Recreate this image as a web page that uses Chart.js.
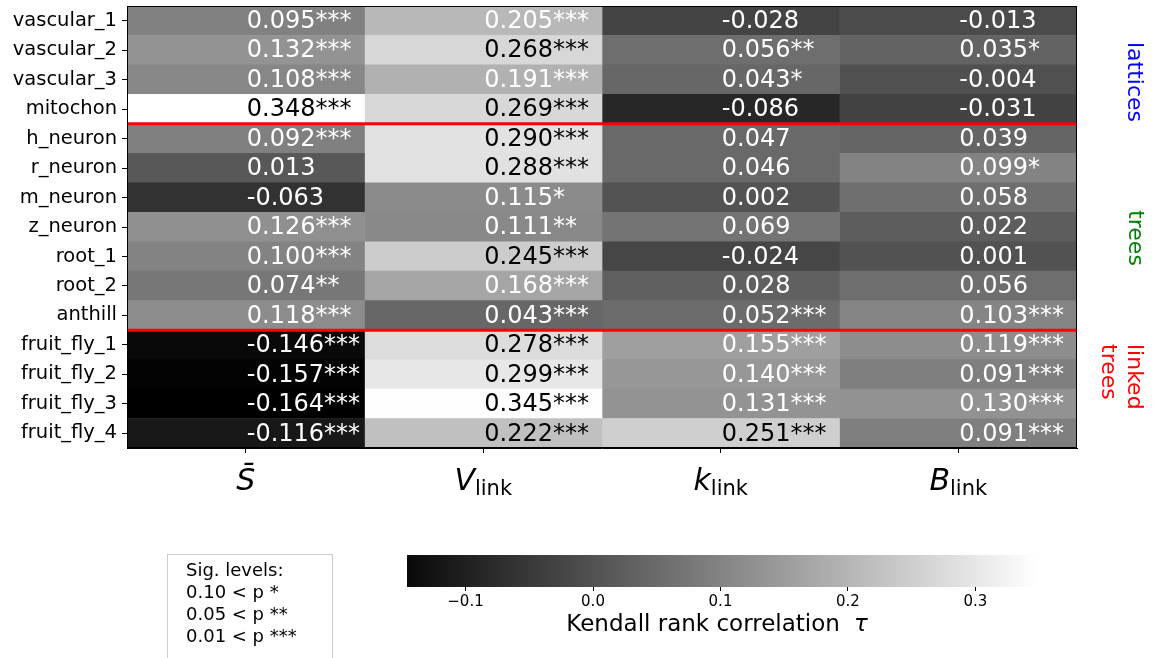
<!DOCTYPE html>
<html>
<head>
<meta charset="utf-8">
<script src="https://cdn.jsdelivr.net/npm/chart.js@4.4.1/dist/chart.umd.min.js"></script>
<style>
  html, body { margin: 0; padding: 0; background: #fff; }
  #wrap { position: relative; width: 1158px; height: 658px; overflow: hidden; }
  #heatmap { position: absolute; left: 0; top: 0; }
  #colorbar { position: absolute; left: 380px; top: 540px; }
  #sigBox {
    position: absolute; left: 167px; top: 554px; width: 166px; height: 130px;
    border: 1px solid #cccccc; box-sizing: border-box;
    padding: 4px 0 0 18px;
    font-family: 'DejaVu Sans'; font-size: 18px; line-height: 22px;
    white-space: pre; color: #000;
  }
</style>
</head>
<body>
<div id="wrap">
  <canvas id="heatmap" width="1158" height="658"></canvas>
  <canvas id="colorbar" width="720" height="118"></canvas>
  <div id="sigBox"><div>Sig. levels:</div><div>0.10 &lt; p *</div><div>0.05 &lt; p **</div><div>0.01 &lt; p ***</div></div>
</div>
<script>
// Row / column labels
const rowLabels = ['vascular_1', 'vascular_2', 'vascular_3', 'mitochon',
    'h_neuron', 'r_neuron', 'm_neuron', 'z_neuron', 'root_1', 'root_2', 'anthill',
    'fruit_fly_1', 'fruit_fly_2', 'fruit_fly_3', 'fruit_fly_4'];
const colSymbols = ['S\u0304', 'V', 'k', 'B'];
const colSubs = ['', 'link', 'link', 'link'];

// Kendall tau per column
const tauS = [0.095, 0.132, 0.108, 0.348, 0.092, 0.013, -0.063, 0.126, 0.100, 0.074, 0.118, -0.146, -0.157, -0.164, -0.116];
const tauV = [0.205, 0.268, 0.191, 0.269, 0.290, 0.288, 0.115, 0.111, 0.245, 0.168, 0.043, 0.278, 0.299, 0.345, 0.222];
const tauK = [-0.028, 0.056, 0.043, -0.086, 0.047, 0.046, 0.002, 0.069, -0.024, 0.028, 0.052, 0.155, 0.140, 0.131, 0.251];
const tauB = [-0.013, 0.035, -0.004, -0.031, 0.039, 0.099, 0.058, 0.022, 0.001, 0.056, 0.103, 0.119, 0.091, 0.130, 0.091];

// Significance stars per column
const starsS = ['***', '***', '***', '***', '***', '', '', '***', '***', '**', '***', '***', '***', '***', '***'];
const starsV = ['***', '***', '***', '***', '***', '***', '*', '**', '***', '***', '***', '***', '***', '***', '***'];
const starsK = ['', '**', '*', '', '', '', '', '', '', '', '***', '***', '***', '***', '***'];
const starsB = ['', '*', '', '', '', '*', '', '', '', '', '***', '***', '***', '***', '***'];

// Groups (first row index of each group) and their side labels
const groupStarts = [0, 4, 11];
const groupLabels = [['lattices'], ['trees'], ['linked', 'trees']];
const groupColors = ['#0000ff', '#008000', '#ff0000'];

// Colour scale + colour bar
const vmin = -0.164, vmax = 0.348;
const cbMin = -0.1459, cbMax = 0.3765;
const cbTicks = [-0.1, 0.0, 0.1, 0.2, 0.3];
const cbTitle = 'Kendall rank correlation';
const cbSymbol = '\u03c4';
const textThreshold = 0.21;

const columns = [tauS, tauV, tauK, tauB];
const stars = [starsS, starsV, starsK, starsB];
const FONT = "'DejaVu Sans'";

function grayFor(v) {
    let t = (v - vmin) / (vmax - vmin);
    t = Math.max(0, Math.min(1, t));
    const g = Math.round(t * 255);
    return `rgb(${g},${g},${g})`;
}

function formatTick(v) {
    const s = Math.abs(v).toFixed(1);
    return v < -1e-9 ? '\u2212' + s : s;
}

// Text, separators, frame, column symbols and group labels
const heatmapDecor = {
    id: 'heatmapDecor',
    afterDatasetsDraw(chart) {
        const ctx = chart.ctx;
        const area = chart.chartArea;
        const yScale = chart.scales.y;

        ctx.save();
        ctx.font = '24px ' + FONT;
        ctx.textAlign = 'left';
        ctx.textBaseline = 'middle';
        chart.data.datasets.forEach((ds, c) => {
            chart.getDatasetMeta(c).data.forEach((bar, r) => {
                const v = columns[c][r];
                const cx = (bar.x + bar.base) / 2;
                ctx.fillStyle = v > textThreshold ? '#000' : '#fff';
                ctx.fillText(v.toFixed(3) + stars[c][r], cx + 1, bar.y + 1);
            });
        });

        // red lines between groups
        ctx.strokeStyle = '#ff0000';
        ctx.lineWidth = 3;
        groupStarts.slice(1).forEach(start => {
            const y = yScale.getPixelForValue(start - 0.5);
            ctx.beginPath();
            ctx.moveTo(area.left, y);
            ctx.lineTo(area.right, y);
            ctx.stroke();
        });
        ctx.restore();
    },
    afterDraw(chart) {
        const ctx = chart.ctx;
        const area = chart.chartArea;
        const xScale = chart.scales.x;

        ctx.save();
        ctx.strokeStyle = '#000';
        ctx.lineWidth = 1;
        ctx.strokeRect(area.left + 0.5, area.top + 0.5, area.right - area.left - 1, area.bottom - area.top - 1);

        // column symbols with subscripts
        ctx.fillStyle = '#000';
        ctx.textBaseline = 'alphabetic';
        ctx.textAlign = 'left';
        const baseY = area.bottom + 42;
        colSymbols.forEach((sym, c) => {
            const cx = xScale.getPixelForValue(c + 0.5);
            ctx.font = 'italic 30px ' + FONT;
            const w1 = ctx.measureText(sym).width;
            ctx.font = '21px ' + FONT;
            const w2 = colSubs[c] ? ctx.measureText(colSubs[c]).width : 0;
            const x0 = cx - (w1 + w2) / 2;
            ctx.font = 'italic 30px ' + FONT;
            ctx.fillText(sym, x0, baseY);
            if (colSubs[c]) {
                ctx.font = '21px ' + FONT;
                ctx.fillText(colSubs[c], x0 + w1, baseY + 5);
            }
        });

        // group labels on the right, rotated clockwise
        const groupPos = [
            { x: 1134, y: 82, align: 'center' },
            { x: 1135, y: 238, align: 'center' },
            { x: 1134, y: 344, align: 'left' }
        ];
        ctx.font = '22px ' + FONT;
        ctx.textBaseline = 'middle';
        groupLabels.forEach((lines, g) => {
            const p = groupPos[g];
            ctx.save();
            ctx.translate(p.x, p.y);
            ctx.rotate(Math.PI / 2);
            ctx.fillStyle = groupColors[g];
            ctx.textAlign = p.align;
            lines.forEach((line, i) => ctx.fillText(line, 0, i * 26));
            ctx.restore();
        });
        ctx.restore();
    }
};

new Chart(document.getElementById('heatmap'), {
    type: 'bar',
    data: {
        labels: rowLabels,
        datasets: columns.map((vals, c) => ({
            label: colSymbols[c] + colSubs[c],
            data: vals.map(() => 1),
            backgroundColor: vals.map(grayFor),
            borderWidth: 0,
            barPercentage: 1,
            categoryPercentage: 1,
            stack: 'cells'
        }))
    },
    options: {
        indexAxis: 'y',
        responsive: false,
        animation: false,
        layout: { padding: { top: 6, right: 81, bottom: 200, left: 0 } },
        plugins: { legend: { display: false }, tooltip: { enabled: false } },
        scales: {
            x: {
                type: 'linear', stacked: true, min: 0, max: 4,
                afterBuildTicks: s => { s.ticks = [0.5, 1.5, 2.5, 3.5].map(v => ({ value: v })); },
                afterFit: s => { s.height = 10; s.paddingLeft = 0; s.paddingRight = 0; },
                ticks: { callback: () => '', padding: 0, font: { size: 1 } },
                grid: { drawOnChartArea: false, tickLength: 5, color: '#000' },
                border: { display: true, color: '#000' }
            },
            y: {
                stacked: true,
                afterFit: s => { s.width = 127; s.paddingTop = 0; s.paddingBottom = 0; },
                ticks: { font: { family: 'DejaVu Sans', size: 19.5 }, color: '#000', padding: 5, autoSkip: false },
                grid: { drawOnChartArea: false, offset: false, tickLength: 5, color: '#000' },
                border: { display: true, color: '#000' }
            }
        }
    },
    plugins: [heatmapDecor]
});

// Colour bar label: plain text followed by an italic tau
const colorbarLabel = {
    id: 'colorbarLabel',
    afterDraw(chart) {
        const ctx = chart.ctx;
        const area = chart.chartArea;
        ctx.save();
        ctx.fillStyle = '#000';
        ctx.textAlign = 'left';
        ctx.textBaseline = 'alphabetic';
        ctx.font = '23px ' + FONT;
        const w1 = ctx.measureText(cbTitle).width;
        ctx.font = 'italic 23px ' + FONT;
        const w2 = ctx.measureText(cbSymbol).width;
        const gap = 14;
        const cx = (area.left + area.right) / 2 - 23;
        const x0 = cx - (w1 + gap + w2) / 2;
        const y = area.bottom + 44;
        ctx.font = '23px ' + FONT;
        ctx.fillText(cbTitle, x0, y);
        ctx.font = 'italic 23px ' + FONT;
        ctx.fillText(cbSymbol, x0 + w1 + gap, y);
        ctx.restore();
    }
};

new Chart(document.getElementById('colorbar'), {
    type: 'bar',
    data: {
        labels: [''],
        datasets: [{
            data: [[cbMin, cbMax]],
            backgroundColor: context => {
                const chart = context.chart;
                if (!chart.chartArea) return '#888';
                const x = chart.scales.x;
                const g = chart.ctx.createLinearGradient(x.getPixelForValue(vmin), 0, x.getPixelForValue(vmax), 0);
                g.addColorStop(0, '#000');
                g.addColorStop(1, '#fff');
                return g;
            },
            borderWidth: 0,
            barPercentage: 1,
            categoryPercentage: 1
        }]
    },
    options: {
        indexAxis: 'y',
        responsive: false,
        animation: false,
        layout: { padding: { left: 27, right: 27, top: 15, bottom: 21 } },
        plugins: { legend: { display: false }, tooltip: { enabled: false } },
        scales: {
            x: {
                type: 'linear', min: cbMin, max: cbMax,
                afterBuildTicks: s => { s.ticks = cbTicks.map(v => ({ value: v })); },
                afterFit: s => { s.height = 50; s.paddingLeft = 0; s.paddingRight = 0; },
                ticks: { callback: v => formatTick(v), font: { family: 'DejaVu Sans', size: 15 }, color: '#000', padding: 2, maxRotation: 0, autoSkip: false },
                grid: { drawOnChartArea: false, tickLength: 4, color: '#000' },
                border: { display: false }
            },
            y: { display: false }
        }
    },
    plugins: [colorbarLabel]
});
</script>
</body>
</html>
